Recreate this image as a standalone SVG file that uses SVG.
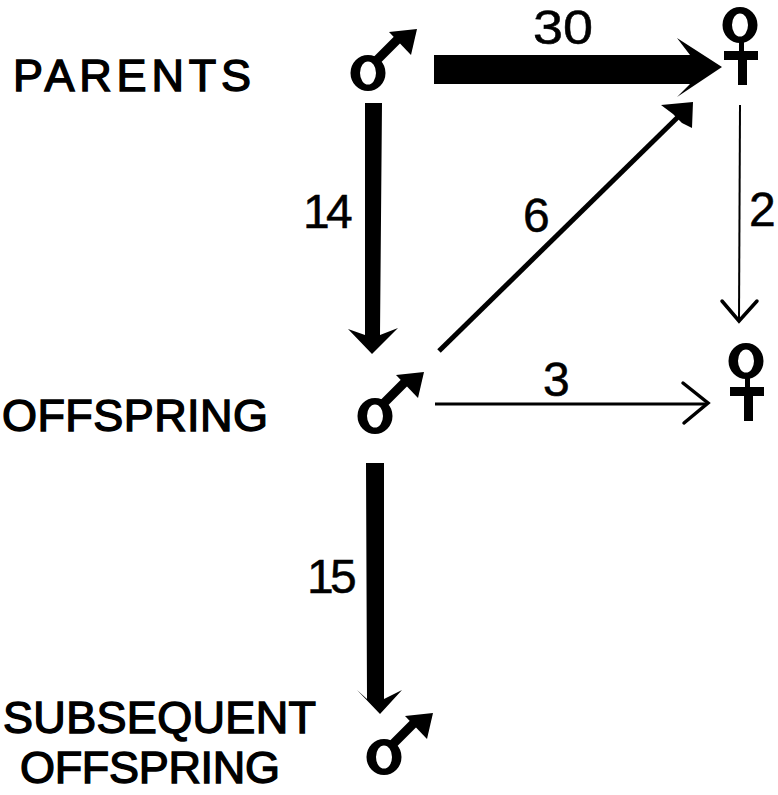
<svg xmlns="http://www.w3.org/2000/svg" width="778" height="795" viewBox="0 0 778 795">
<style>
text{font-family:"Liberation Sans",Arial,sans-serif;fill:#000}
.lab{font-size:45px;stroke:#000;stroke-width:1.400px}
.num{font-size:48px;stroke:#000;stroke-width:.500px}
.chev{fill:none;stroke:#000;stroke-linejoin:miter;stroke-linecap:round}
</style>
<defs>
<path id="ring" fill-rule="evenodd" fill="#000" d="M-17.500 0A17.500 18 0 0 1 17.500 0A17.500 18 0 0 1 -17.500 0ZM-8 0A8 11.500 0 0 0 8 0A8 11.500 0 0 0 -8 0Z"/>
<g id="male">
<use href="#ring"/>
<path d="M9 -13L30 -34" stroke="#000" stroke-width="9" fill="none"/>
<path d="M49 -44L21 -41L43 -18Z" fill="#000"/>
</g>
<g id="female">
<use href="#ring"/>
<rect x="-1" y="15" width="5" height="12" fill="#000"/>
<rect x="-16" y="26" width="34" height="9" fill="#000"/>
<rect x="-2" y="30" width="9" height="30" fill="#000"/>
</g>
</defs>
<rect width="778" height="795" fill="#fff"/>
<g id="connectors">
<path d="M434 55H690L677 38L722 67L677 97L690 84H434Z" fill="#000"/>
<path d="M365 103H382L380 335L398 328L372 354L348 329L365 335Z" fill="#000"/>
<path d="M366 463H384L384 699L402 690L380 714L357 690L367 699Z" fill="#000"/>
<path d="M439 351L680 115" stroke="#000" stroke-width="5" fill="none"/>
<path d="M693 102L661 105L673 114L682 123L692 128Z" fill="#000"/>
<path d="M435 404H706" stroke="#000" stroke-width="3" fill="none"/>
<path class="chev" d="M683 383L708 403L684 423" stroke-width="3.500"/>
<path d="M740 105L739 320" stroke="#000" stroke-width="2" fill="none"/>
<path class="chev" d="M722 301L739 321L757 301" stroke-width="3.500"/>
</g>
<g id="node-parent-male"><use href="#male" x="368" y="73"/></g>
<g id="node-parent-female"><use href="#female" x="740" y="25"/></g>
<g id="node-offspring-male"><use href="#male" x="375" y="416"/></g>
<g id="node-offspring-female"><use href="#female" x="746" y="361"/></g>
<g id="node-subsequent-male"><use href="#male" x="384" y="757"/></g>
<g id="labels">
<text class="lab" x="13" y="91" textLength="238" lengthAdjust="spacing">PARENTS</text>
<text class="lab" x="2" y="431" textLength="266" lengthAdjust="spacing">OFFSPRING</text>
<text class="lab" x="3" y="733" textLength="313" lengthAdjust="spacing">SUBSEQUENT</text>
<text class="lab" x="20" y="783" textLength="260" lengthAdjust="spacing">OFFSPRING</text>
<text class="num" x="533" y="44" textLength="60" lengthAdjust="spacingAndGlyphs">30</text>
<text class="num" x="303 326" y="228">14</text>
<text class="num" x="523" y="232">6</text>
<text class="num" x="749" y="226">2</text>
<text class="num" x="543" y="396">3</text>
<text class="num" x="307 330" y="593">15</text>
</g>
</svg>
